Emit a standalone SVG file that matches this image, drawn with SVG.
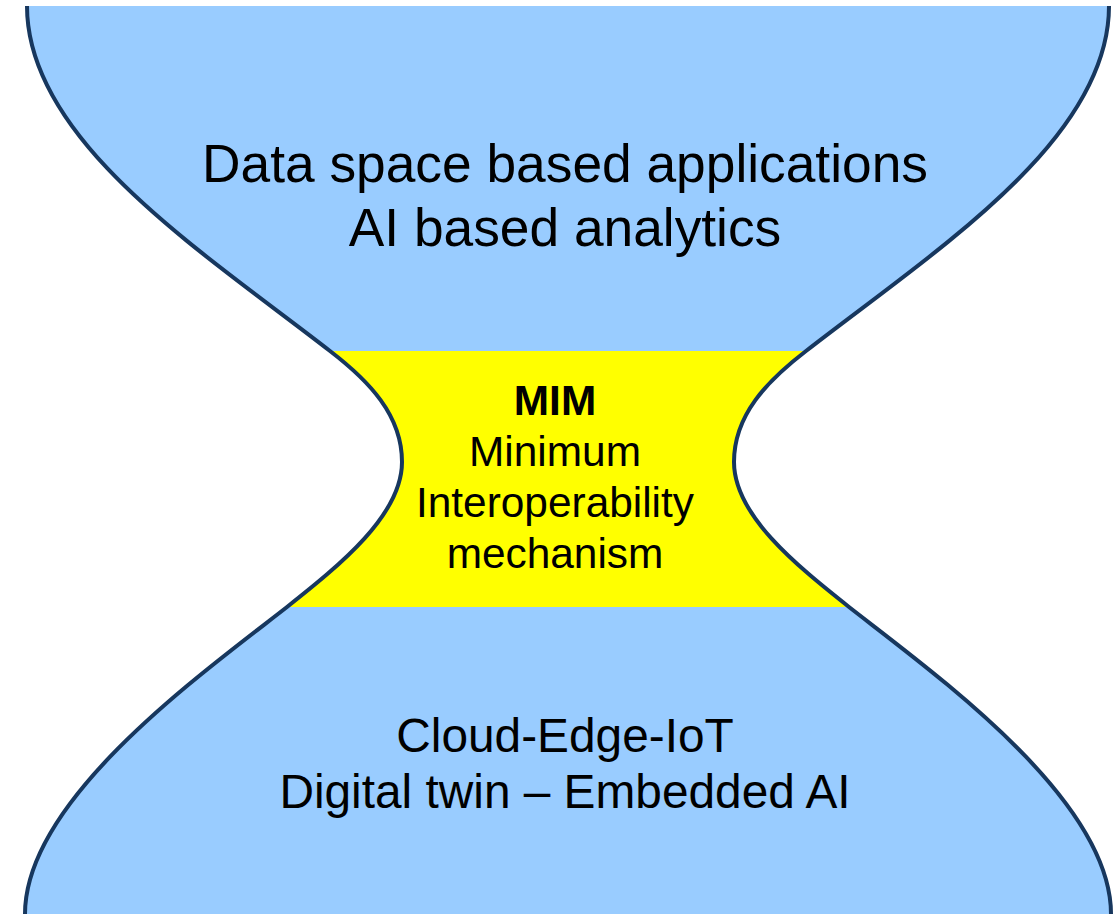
<svg xmlns="http://www.w3.org/2000/svg" width="1114" height="914" viewBox="0 0 1114 914">
  <style>
    .outline { fill: none; stroke: #17375e; stroke-width: 4; stroke-linejoin: round; }
    .label { font-family: "Liberation Sans", Arial, sans-serif; fill: #000; text-anchor: middle; }
    .big { font-size: 53.3px; }
    .mid { font-size: 42.4px; }
    .low { font-size: 47.8px; }
  </style>
  <defs>
    <!-- hourglass outline: left and right waists meet at the yellow band -->
    <path id="hourglass" d="M27,6 C27,140 200,250 330,351 C369,381 402,415 402,462 C402,515 340,565 287,607 C200,675 25,800 25,914 L1111,914 C1111,800 936,675 849,607 C796,565 734,515 734,462 C734,415 767,381 806,351 C936,250 1109,140 1109,6 Z"/>
    <clipPath id="hourglass-clip">
      <use href="#hourglass"/>
    </clipPath>
  </defs>

  <g id="top-layer">
    <use href="#hourglass" fill="#99ccff"/>
    <text class="label big" x="565" y="182">Data space based applications</text>
    <text class="label big" x="565" y="246">AI based analytics</text>
  </g>

  <g id="mim-layer">
    <rect x="0" y="351" width="1114" height="256" fill="#ffff00" clip-path="url(#hourglass-clip)"/>
    <text class="label mid" x="555" y="415" font-weight="bold">MIM</text>
    <text class="label mid" x="555" y="466">Minimum</text>
    <text class="label mid" x="555" y="517">Interoperability</text>
    <text class="label mid" x="555" y="568">mechanism</text>
  </g>

  <g id="bottom-layer">
    <text class="label low" x="565" y="752">Cloud-Edge-IoT</text>
    <text class="label low" x="565" y="808">Digital twin – Embedded AI</text>
  </g>

  <g id="outline">
    <path class="outline" d="M27,6 C27,140 200,250 330,351 C369,381 402,415 402,462 C402,515 340,565 287,607 C200,675 25,800 25,914"/>
    <path class="outline" d="M1109,6 C1109,140 936,250 806,351 C767,381 734,415 734,462 C734,515 796,565 849,607 C936,675 1111,800 1111,914"/>
  </g>
</svg>
